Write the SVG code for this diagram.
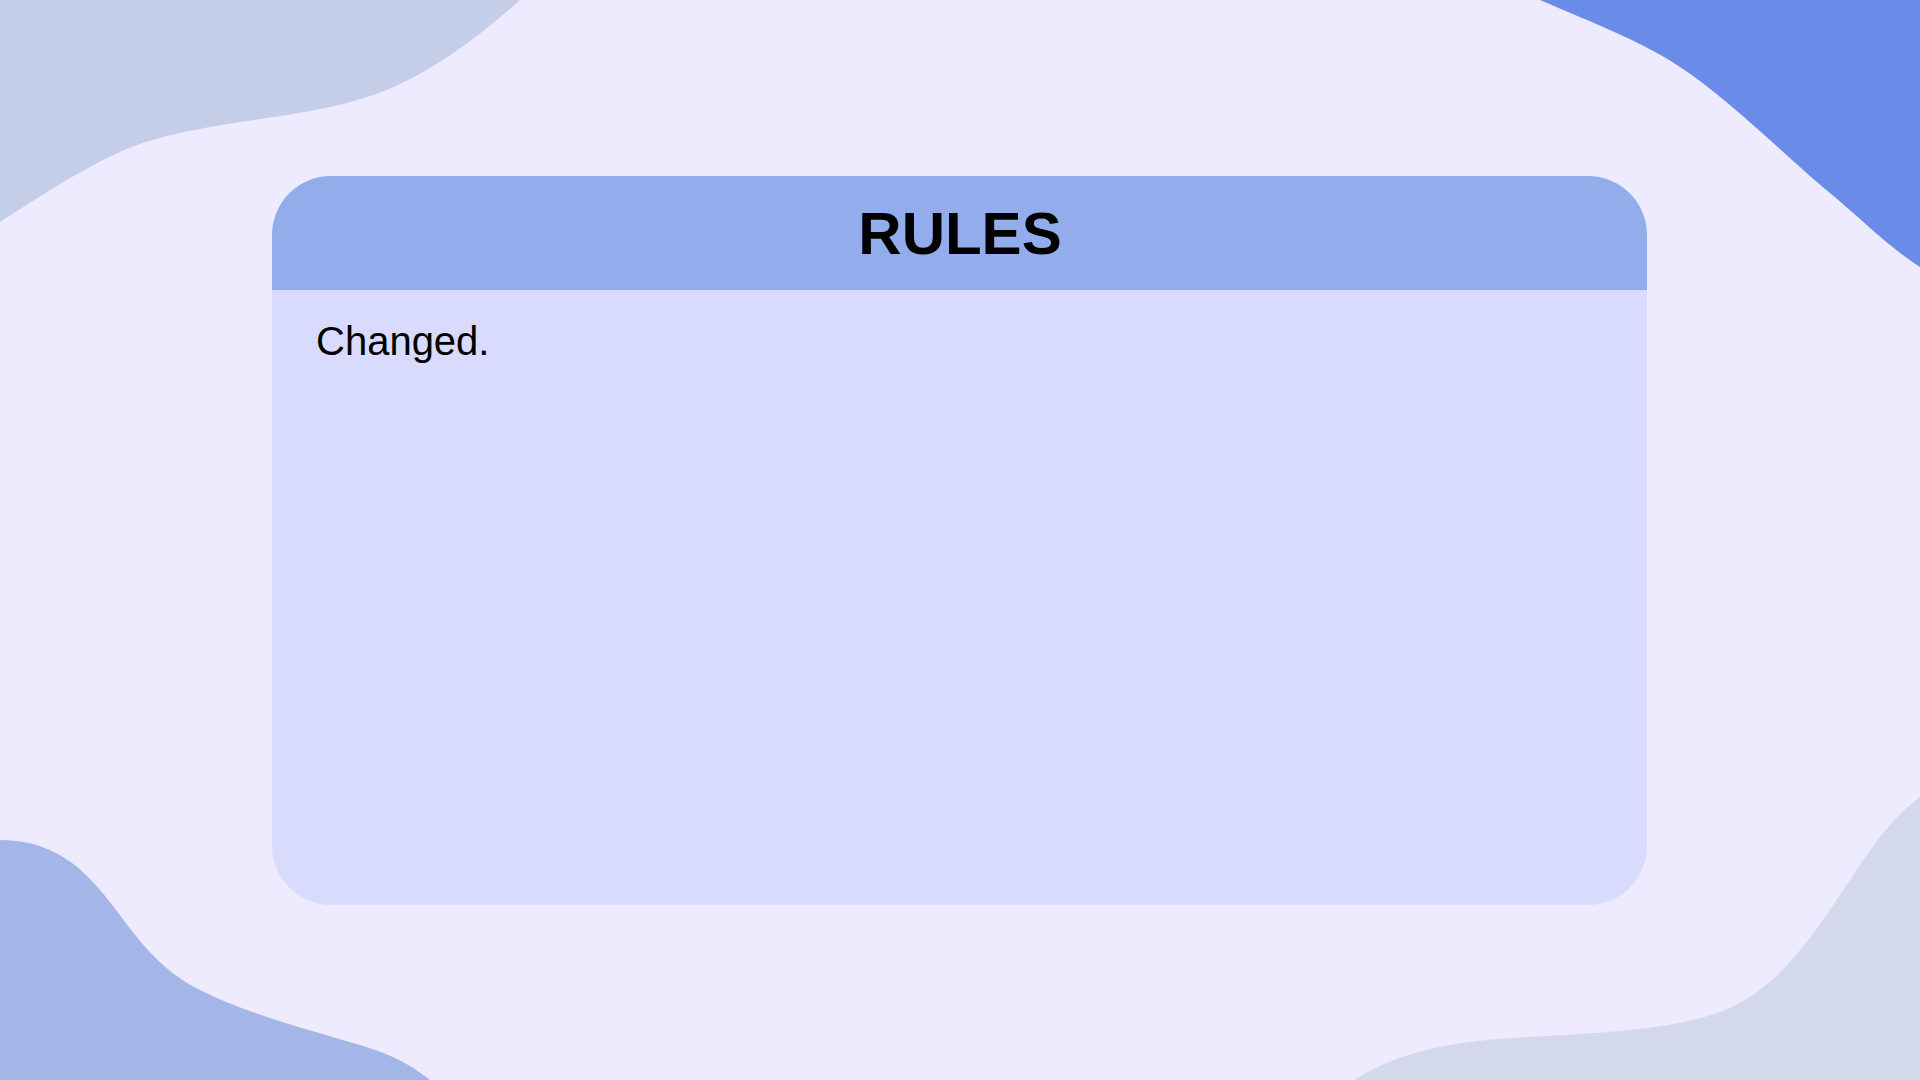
<svg xmlns="http://www.w3.org/2000/svg" width="1920" height="1080" viewBox="0 0 1920 1080">
  <style>
    .title { font-family: "Liberation Sans", Arial, sans-serif; font-weight: bold; font-size: 60px; fill: #000000; }
    .body { font-family: "Liberation Sans", Arial, sans-serif; font-size: 40px; fill: #000000; }
  </style>
  <rect x="0" y="0" width="1920" height="1080" fill="#EDEBFD"/>
  <g id="blobs">
    <path d="M0,0 L520,0 C480,35 430,76 370,96 C330,110 280,116 240,122 C190,130 150,138 120,152 C80,170 40,196 0,222 Z" fill="#C4CEE9"/>
    <path d="M1540,0 C1590,22 1640,40 1680,67 C1730,100 1790,160 1830,193 C1860,218 1890,248 1920,267 L1920,0 Z" fill="#6A8BE8"/>
    <path d="M0,840 C45,840 75,860 100,890 C130,925 150,965 200,990 C250,1015 310,1030 360,1045 C395,1055 415,1068 430,1080 L0,1080 Z" fill="#A4B6E8"/>
    <path d="M1354,1080 C1400,1050 1460,1040 1530,1037 C1600,1033 1680,1030 1730,1008 C1780,985 1810,940 1850,880 C1875,842 1895,815 1920,797 L1920,1080 Z" fill="#D3D8EA"/>
  </g>
  <g id="rules-card">
    <path d="M272,290 L1647,290 L1647,846 A59,59 0 0 1 1588,905 L331,905 A59,59 0 0 1 272,846 Z" fill="#D8DBFE"/>
    <path d="M331,176 L1588,176 A59,59 0 0 1 1647,235 L1647,290 L272,290 L272,235 A59,59 0 0 1 331,176 Z" fill="#93ACEB"/>
    <text class="title" x="960" y="254" text-anchor="middle">RULES</text>
    <text class="body" x="316" y="355">Changed.</text>
  </g>
  <g id="connectors"/>
</svg>
